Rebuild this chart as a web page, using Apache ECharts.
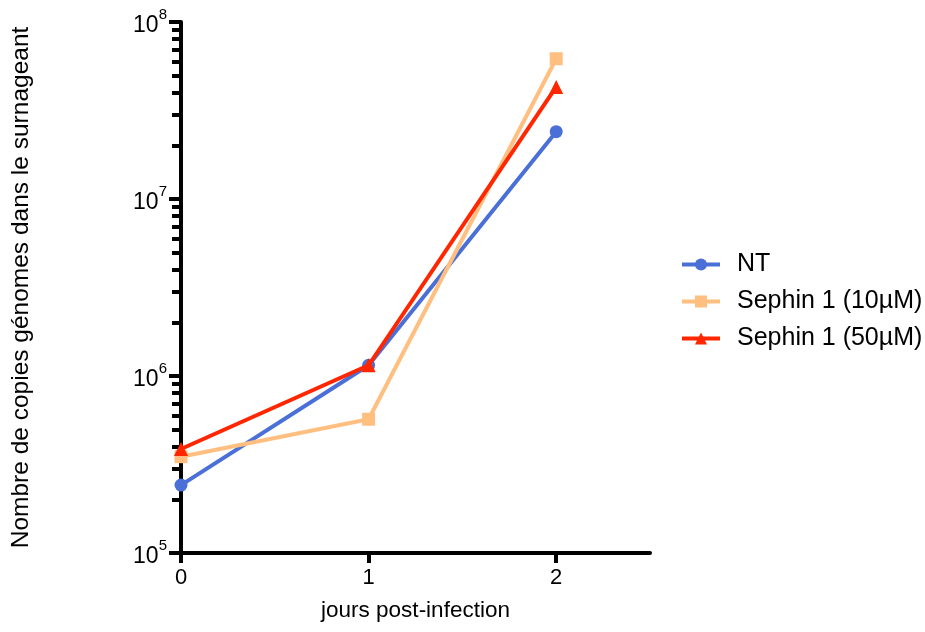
<!DOCTYPE html>
<html>
<head>
<meta charset="utf-8">
<script src="https://cdn.jsdelivr.net/npm/echarts@6/dist/echarts.min.js"></script>
<style>
  html, body { margin: 0; padding: 0; background: #fff; }
  #chart { width: 925px; height: 632px; }
</style>
</head>
<body>
<div id="chart"></div>
<script>
// jours post-infection
const days = [0, 1, 2];
const seriesNames = ['NT', 'Sephin 1 (10µM)', 'Sephin 1 (50µM)'];
const ntValues = [2.42e5, 1.15e6, 2.4e7];
const sephin10Values = [3.5e5, 5.7e5, 6.2e7];
const sephin50Values = [3.87e5, 1.15e6, 4.3e7];
const xTicks = [0, 1, 2];
const yMajorTicks = [1e5, 1e6, 1e7, 1e8];
const yMinorTicks = [];
[1e5, 1e6, 1e7].forEach(d => {
  for (let k = 2; k <= 9; k++) yMinorTicks.push(k * d);
});

const colors = ['#4a6fd6', '#ffbf80', '#ff2600'];
const symbols = ['circle', 'rect', 'triangle'];
const allValues = [ntValues, sephin10Values, sephin50Values];

const chart = echarts.init(document.getElementById('chart'));
const font = 'Liberation Sans, Arial, sans-serif';

const series = seriesNames.map((name, i) => ({
  name: name,
  type: 'line',
  data: days.map((d, j) => [d, allValues[i][j]]),
  symbol: symbols[i],
  symbolSize: i === 2 ? 14 : 13,
  lineStyle: { width: 4, color: colors[i] },
  itemStyle: { color: colors[i] },
  z: 2 + i
}));

const option = {
  animation: false,
  backgroundColor: '#fff',
  textStyle: { fontFamily: font },
  grid: { left: 181, right: 275, top: 22, bottom: 79 },
  legend: {
    orient: 'vertical',
    left: 675,
    top: 247,
    itemWidth: 38,
    itemHeight: 15,
    itemGap: 12,
    lineStyle: { width: 4 },
    textStyle: { fontSize: 25, color: '#000', fontFamily: font, padding: [0, 0, 0, 12] },
    data: seriesNames
  },
  xAxis: {
    type: 'value',
    min: 0,
    max: 2.5,
    interval: 1,
    name: 'jours post-infection',
    nameLocation: 'middle',
    nameGap: 46,
    nameTextStyle: { fontSize: 22.5, color: '#000', fontFamily: font },
    axisLine: { show: true, onZero: false, lineStyle: { color: '#000', width: 4 } },
    axisTick: { show: true, customValues: xTicks, length: 10, lineStyle: { color: '#000', width: 4 } },
    axisLabel: { customValues: xTicks, fontSize: 22, color: '#000', margin: 14, fontFamily: font },
    splitLine: { show: false }
  },
  yAxis: [{
    type: 'log',
    logBase: 10,
    min: 1e5,
    max: 1e8,
    name: 'Nombre de copies génomes dans le surnageant',
    nameLocation: 'middle',
    nameGap: 147,
    nameRotate: 90,
    nameTextStyle: { fontSize: 24.5, color: '#000', fontFamily: font },
    axisLine: { show: true, lineStyle: { color: '#000', width: 4 } },
    axisTick: { show: true, customValues: yMajorTicks, length: 12, lineStyle: { color: '#000', width: 4 } },
    axisLabel: {
      customValues: yMajorTicks,
      margin: 14,
      formatter: v => '{b|10}{s|' + Math.round(Math.log10(v)) + '}',
      rich: {
        b: { fontSize: 23, color: '#000', fontFamily: font, verticalAlign: 'bottom', lineHeight: 23 },
        s: { fontSize: 15, color: '#000', fontFamily: font, verticalAlign: 'top', lineHeight: 30 }
      }
    },
    splitLine: { show: false }
  }, {
    type: 'log',
    logBase: 10,
    min: 1e5,
    max: 1e8,
    position: 'left',
    axisLine: { show: false },
    axisTick: { show: true, customValues: yMinorTicks, length: 9, lineStyle: { color: '#000', width: 4 } },
    axisLabel: { show: false },
    splitLine: { show: false }
  }],
  series: series
};

chart.setOption(option);
</script>
</body>
</html>
